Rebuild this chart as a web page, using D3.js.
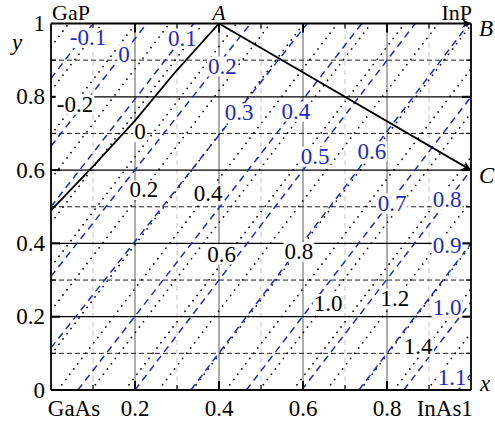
<!DOCTYPE html>
<html>
<head>
<meta charset="utf-8">
<script src="https://cdn.jsdelivr.net/npm/d3@7"></script>
<style>
  html, body { margin: 0; padding: 0; background: #fff; }
  svg { display: block; }
</style>
</head>
<body>
<script>
// contour lines (start point on left/bottom edge, end point on top/right edge)
const blueLevels = [-0.1, 0, 0.1, 0.2, 0.3, 0.4, 0.5, 0.6, 0.7, 0.8, 0.9, 1.0, 1.1];
const blueStart = [[0,0.85],[0,0.665],[0,0.50],[0,0.31],[0,0.115],[0.064,0],[0.2,0],[0.333,0],[0.465,0],[0.597,0],[0.733,0],[0.84,0],[0.97,0]];
const blueEnd = [[0.1,1],[0.228,1],[0.34,1],[0.475,1],[0.61,1],[0.74,1],[0.867,1],[0.995,1],[1,0.8],[1,0.6],[1,0.4],[1,0.24],[1,0.045]];

const blackLevels = [-0.4,-0.3,-0.2,-0.1,0,0.1,0.2,0.3,0.4,0.5,0.6,0.7,0.8,0.9,1.0,1.1,1.2,1.3,1.4,1.5,1.6];
const blackStart = [[0,0.936],[0,0.816],[0,0.696],[0,0.576],[0,0.456],[0,0.336],[0,0.216],[0,0.096],[0.016,0],[0.096,0],[0.176,0],[0.256,0],[0.336,0],[0.416,0],[0.496,0],[0.576,0],[0.656,0],[0.736,0],[0.816,0],[0.896,0],[0.976,0]];
const blackEnd = [[0.042,1],[0.122,1],[0.202,1],[0.282,1],[0.362,1],[0.442,1],[0.522,1],[0.602,1],[0.682,1],[0.762,1],[0.842,1],[0.922,1],[1,0.996],[1,0.876],[1,0.756],[1,0.636],[1,0.516],[1,0.396],[1,0.276],[1,0.156],[1,0.036]];

// label texts and their positions (data coords)
const blueLabels = ["-0.1","0","0.1","0.2","0.3","0.4","0.5","0.6","0.7","0.8","0.9","1.0","1.1"];
const blueLabelPos = [[0.088,0.962],[0.174,0.915],[0.313,0.960],[0.408,0.884],[0.448,0.756],[0.583,0.761],[0.629,0.638],[0.764,0.652],[0.812,0.510],[0.943,0.521],[0.943,0.393],[0.943,0.226],[0.955,0.035]];
const blackLabels = ["-0.2","0","0.2","0.4","0.6","0.8","1.0","1.2","1.4"];
const blackLabelPos = [[0.057,0.780],[0.212,0.705],[0.221,0.546],[0.374,0.535],[0.406,0.371],[0.590,0.379],[0.660,0.236],[0.819,0.250],[0.874,0.119]];

// composition path: GaAs-side edge to A, then A to B and A to C
const edgePath = [[0,0.49],[0.1,0.61],[0.2,0.735],[0.3,0.873],[0.4,1]];
const pointA = [0.4, 1], pointB = [1, 1], pointC = [1, 0.6];

const xTicks = [0.2, 0.4, 0.6, 0.8];
const yTicks = [0, 0.2, 0.4, 0.6, 0.8, 1];
const minorTicks = [0.1, 0.3, 0.5, 0.7, 0.9];

const width = 495, height = 425;
const x = d3.scaleLinear([0, 1], [51, 471]);
const y = d3.scaleLinear([0, 1], [390, 23.5]);

const blue = "#1c2bc6";
const font = "'Liberation Serif', 'Times New Roman', serif";

const svg = d3.select("body").append("svg")
  .attr("width", width)
  .attr("height", height)
  .attr("viewBox", [0, 0, width, height])
  .style("font-family", font)
  .style("font-size", "23px");

const defs = svg.append("defs");
defs.append("clipPath").attr("id", "plot")
  .append("rect")
  .attr("x", x(0)).attr("y", y(1))
  .attr("width", x(1) - x(0)).attr("height", y(0) - y(1));
defs.append("marker")
  .attr("id", "arrow")
  .attr("viewBox", "0 0 10 10")
  .attr("refX", 10).attr("refY", 5)
  .attr("markerWidth", 14).attr("markerHeight", 9)
  .attr("markerUnits", "userSpaceOnUse")
  .attr("orient", "auto")
  .append("path")
  .attr("d", "M0,0 L10,5 L0,10 L3,5 Z")
  .attr("fill", "#000");

// grid
const grid = svg.append("g");
grid.selectAll(".vmin").data(minorTicks).join("line")
  .attr("x1", d => x(d)).attr("x2", d => x(d))
  .attr("y1", y(0)).attr("y2", y(1))
  .attr("stroke", "#c4c4c4").attr("stroke-width", 1)
  .attr("stroke-dasharray", "5,4");
grid.selectAll(".vmaj").data(xTicks).join("line")
  .attr("x1", d => x(d)).attr("x2", d => x(d))
  .attr("y1", y(0)).attr("y2", y(1))
  .attr("stroke", "#8a8a8a").attr("stroke-width", 1.4);
grid.selectAll(".hmin").data(minorTicks).join("line")
  .attr("x1", x(0)).attr("x2", x(1))
  .attr("y1", d => y(d)).attr("y2", d => y(d))
  .attr("stroke", "#222").attr("stroke-width", 1)
  .attr("stroke-dasharray", "5,3");
grid.selectAll(".hmaj").data(xTicks).join("line")
  .attr("x1", x(0)).attr("x2", x(1))
  .attr("y1", d => y(d)).attr("y2", d => y(d))
  .attr("stroke", "#000").attr("stroke-width", 1.2);

// contours
const lines = svg.append("g").attr("clip-path", "url(#plot)");
lines.selectAll(".bk").data(blackLevels).join("line")
  .attr("x1", (d, i) => x(blackStart[i][0])).attr("y1", (d, i) => y(blackStart[i][1]))
  .attr("x2", (d, i) => x(blackEnd[i][0])).attr("y2", (d, i) => y(blackEnd[i][1]))
  .attr("stroke", "#000").attr("stroke-width", 1.7)
  .attr("stroke-linecap", "round")
  .attr("stroke-dasharray", "0.1,6.5");
lines.selectAll(".bl").data(blueLevels).join("line")
  .attr("x1", (d, i) => x(blueStart[i][0])).attr("y1", (d, i) => y(blueStart[i][1]))
  .attr("x2", (d, i) => x(blueEnd[i][0])).attr("y2", (d, i) => y(blueEnd[i][1]))
  .attr("stroke", blue).attr("stroke-width", 1.5)
  .attr("stroke-dasharray", "7,5");

// ticks on the frame
const ticks = svg.append("g").attr("stroke", "#000");
xTicks.forEach(t => {
  ticks.append("line").attr("x1", x(t)).attr("x2", x(t)).attr("y1", y(0)).attr("y2", y(0) - 9).attr("stroke-width", 2);
  ticks.append("line").attr("x1", x(t)).attr("x2", x(t)).attr("y1", y(1)).attr("y2", y(1) + 9).attr("stroke-width", 2);
  ticks.append("line").attr("y1", y(t)).attr("y2", y(t)).attr("x1", x(0)).attr("x2", x(0) + 9).attr("stroke-width", 2);
  ticks.append("line").attr("y1", y(t)).attr("y2", y(t)).attr("x1", x(1)).attr("x2", x(1) - 9).attr("stroke-width", 2);
});
minorTicks.forEach(t => {
  ticks.append("line").attr("x1", x(t)).attr("x2", x(t)).attr("y1", y(0)).attr("y2", y(0) - 5).attr("stroke-width", 1.2);
  ticks.append("line").attr("x1", x(t)).attr("x2", x(t)).attr("y1", y(1)).attr("y2", y(1) + 5).attr("stroke-width", 1.2);
  ticks.append("line").attr("y1", y(t)).attr("y2", y(t)).attr("x1", x(0)).attr("x2", x(0) + 5).attr("stroke-width", 1.2);
  ticks.append("line").attr("y1", y(t)).attr("y2", y(t)).attr("x1", x(1)).attr("x2", x(1) - 5).attr("stroke-width", 1.2);
});

// contour labels with white boxes
function addLabels(texts, pos, color) {
  const g = svg.append("g");
  texts.forEach((t, i) => {
    const lab = g.append("g");
    const txt = lab.append("text")
      .attr("x", x(pos[i][0])).attr("y", y(pos[i][1]))
      .attr("text-anchor", "middle")
      .attr("dominant-baseline", "central")
      .attr("fill", color)
      .text(t);
    const bb = txt.node().getBBox();
    lab.insert("rect", "text")
      .attr("x", bb.x - 1).attr("y", bb.y + 3)
      .attr("width", bb.width + 2).attr("height", bb.height - 5)
      .attr("fill", "#fff");
  });
}
addLabels(blackLabels, blackLabelPos, "#000");
addLabels(blueLabels, blueLabelPos, blue);

// frame
svg.append("line").attr("x1", x(0)).attr("x2", x(0)).attr("y1", y(0)).attr("y2", y(1)).attr("stroke", "#000").attr("stroke-width", 1.8);
svg.append("line").attr("x1", x(0)).attr("x2", x(1)).attr("y1", y(0)).attr("y2", y(0)).attr("stroke", "#000").attr("stroke-width", 1.8);
svg.append("line").attr("x1", x(1)).attr("x2", x(1)).attr("y1", y(0)).attr("y2", y(1)).attr("stroke", "#000").attr("stroke-width", 1.8);
svg.append("line").attr("x1", x(0)).attr("x2", x(pointB[0])).attr("y1", y(1)).attr("y2", y(pointB[1])).attr("stroke", "#000").attr("stroke-width", 1.8)
  .attr("marker-end", "url(#arrow)");

// composition paths
svg.append("path")
  .attr("d", d3.line().x(d => x(d[0])).y(d => y(d[1]))(edgePath))
  .attr("fill", "none").attr("stroke", "#000").attr("stroke-width", 1.8);
svg.append("line")
  .attr("x1", x(pointA[0])).attr("y1", y(pointA[1]))
  .attr("x2", x(pointC[0])).attr("y2", y(pointC[1]))
  .attr("stroke", "#000").attr("stroke-width", 1.8)
  .attr("marker-end", "url(#arrow)");

// axis tick labels
const yl = svg.append("g").attr("text-anchor", "end");
yTicks.forEach(t => {
  yl.append("text").attr("x", 45).attr("y", y(t)).attr("dominant-baseline", "central")
    .text(t === 0 || t === 1 ? String(t) : t.toFixed(1));
});
const xl = svg.append("g").attr("text-anchor", "middle");
xTicks.forEach(t => {
  xl.append("text").attr("x", x(t)).attr("y", 416).text(t.toFixed(1));
});
xl.append("text").attr("x", 74).attr("y", 416).text("GaAs");
xl.append("text").attr("x", 439).attr("y", 416).text("InAs");
xl.append("text").attr("x", 467).attr("y", 416).text("1");

// corner and point labels
const cornerLabels = svg.append("g").style("font-size", "22px");
cornerLabels.append("text").attr("x", 52).attr("y", 20).text("GaP");
cornerLabels.append("text").attr("x", 472).attr("y", 20).attr("text-anchor", "end").text("InP");
cornerLabels.append("text").attr("x", x(pointA[0])).attr("y", 20).attr("text-anchor", "middle").attr("font-style", "italic").text("A");
svg.append("text").attr("x", 479).attr("y", 36).attr("font-style", "italic").text("B");
svg.append("text").attr("x", 479).attr("y", 183).attr("font-style", "italic").text("C");
svg.append("text").attr("x", 480).attr("y", 391).attr("font-style", "italic").text("x");
svg.append("text").attr("x", 12).attr("y", 50).attr("font-style", "italic").text("y");
</script>
</body>
</html>
